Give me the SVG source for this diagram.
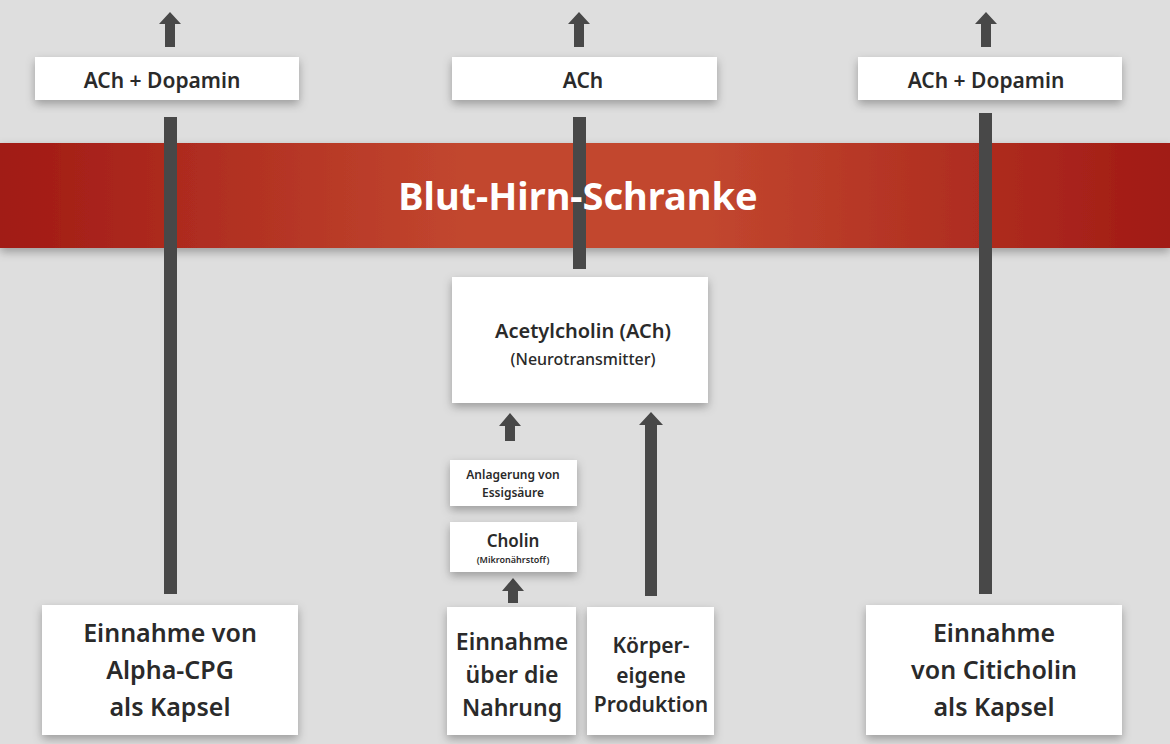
<svg xmlns="http://www.w3.org/2000/svg" width="1170" height="744" viewBox="0 0 1170 744">
<style>
.box{fill:#fff;filter:url(#sh)}
text{font-family:"Noto Sans","Open Sans",sans-serif;font-weight:600;fill:#2a2a2a;text-anchor:middle}
.line{fill:#484848}
</style>
<defs>
<linearGradient id="g" x1="0" x2="1" y1="0" y2="0">
<stop offset="0" stop-color="#a11a15"/><stop offset="0.4" stop-color="#c2472f"/><stop offset="0.6" stop-color="#c2472f"/><stop offset="1" stop-color="#a11a15"/>
</linearGradient>
<filter id="sh" x="-10%" y="-20%" width="120%" height="150%"><feDropShadow dx="0" dy="4" stdDeviation="5" flood-color="#000" flood-opacity="0.3"/></filter>
</defs>
<rect width="1170" height="744" fill="#dedede"/>
<g id="banner">
<rect x="0" y="143" width="1170" height="105" fill="url(#g)" filter="url(#sh)"/>
</g>
<g id="connectors" class="line">
<rect x="164" y="117" width="13" height="477"/>
<rect x="573" y="117" width="13" height="152"/>
<rect x="979" y="113" width="13" height="481"/>
<path d="M165 47V24H159L170 12L181 24H175V47Z"/>
<path d="M574 47V24H568L579 12L590 24H584V47Z"/>
<path d="M981 47V24H975L986 12L997 24H991V47Z"/>
<path d="M505 441V426H499L510 413L521 426H515V441Z"/>
<path d="M508 603V591H502L513 578L524 591H518V603Z"/>
<path d="M645 596V425H639L651 412L663 425H657V596Z"/>
</g>
<g id="banner-label"><text x="578" y="210" font-size="38" style="fill:#fff;font-weight:700">Blut-Hirn-Schranke</text></g>
<g id="n1"><rect class="box" x="35" y="57" width="264" height="43"/><text x="162" y="88" font-size="21">ACh + Dopamin</text></g>
<g id="n2"><rect class="box" x="452" y="57" width="265" height="43"/><text x="583" y="88" font-size="21">ACh</text></g>
<g id="n3"><rect class="box" x="858" y="57" width="264" height="43"/><text x="986" y="88" font-size="21">ACh + Dopamin</text></g>
<g id="n4"><rect class="box" x="452" y="277" width="256" height="126"/><text x="583" y="338" font-size="20">Acetylcholin (ACh)</text><text x="583" y="365" font-size="16" style="font-weight:500">(Neurotransmitter)</text></g>
<g id="n5"><rect class="box" x="450" y="460" width="127" height="46"/><text x="513" y="479" font-size="12">Anlagerung von</text><text x="513" y="497" font-size="12">Essigsäure</text></g>
<g id="n6"><rect class="box" x="450" y="522" width="127" height="50"/><text x="513" y="547" font-size="17">Cholin</text><text x="513" y="563" font-size="9">(Mikronährstoff)</text></g>
<g id="n7"><rect class="box" x="42" y="605" width="256" height="130"/><text x="170" y="642" font-size="25">Einnahme von</text><text x="170" y="679" font-size="25">Alpha-CPG</text><text x="170" y="716" font-size="25">als Kapsel</text></g>
<g id="n8"><rect class="box" x="447" y="607" width="129" height="128"/><text x="512" y="650" font-size="23">Einnahme</text><text x="512" y="683" font-size="23">über die</text><text x="512" y="716" font-size="23">Nahrung</text></g>
<g id="n9"><rect class="box" x="587" y="607" width="127" height="128"/><text x="651" y="653" font-size="21">Körper-</text><text x="651" y="683" font-size="21">eigene</text><text x="651" y="712" font-size="21">Produktion</text></g>
<g id="n10"><rect class="box" x="866" y="605" width="256" height="130"/><text x="994" y="642" font-size="25">Einnahme</text><text x="994" y="679" font-size="25">von Citicholin</text><text x="994" y="716" font-size="25">als Kapsel</text></g>
</svg>
